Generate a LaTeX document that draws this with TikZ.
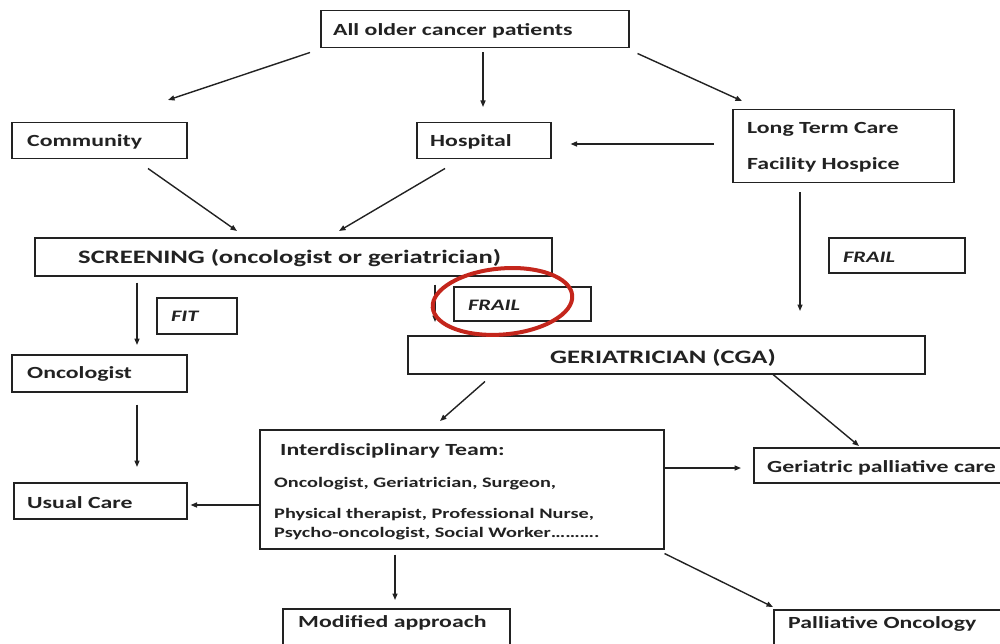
\documentclass[tikz,border=0pt]{standalone}
\usepackage{fontspec}
\setmainfont{Carlito}[FakeStretch=1.4]
\usetikzlibrary{arrows.meta}
\definecolor{ink}{RGB}{34,34,34}
\definecolor{ringred}{RGB}{196,38,28}
\begin{document}
\begin{tikzpicture}[x=1pt,y=-1pt,
  box/.style={draw=ink,line width=1.5pt,inner sep=0pt,fill=white},
  txt/.style={anchor=base west,inner sep=0pt,text=ink,font=\bfseries\fontsize{17}{20}\selectfont},
  big/.style={txt,font=\bfseries\fontsize{19}{22}\selectfont},
  small/.style={txt,font=\bfseries\fontsize{14.5}{17}\selectfont},
  tag/.style={txt,font=\bfseries\itshape\fontsize{16}{19}\selectfont},
  arr/.style={draw=ink,line width=1.4pt,-{Triangle[length=6.5pt,width=5pt]}},
  ring/.style={draw=ringred,line width=4pt}]
\useasboundingbox (0,0) rectangle (1000,644);
\clip (0,0) rectangle (1000,644);
% box #1: corner (x1,y1) to (x2,y2)
\newcommand\mybox[5]{\node[box,anchor=north west,minimum width={#4-#2},minimum height={#5-#3}] (#1) at (#2,#3) {};}
\mybox{all}{320}{10}{628}{47}
\mybox{comm}{11}{122}{186}{158}
\mybox{hosp}{416}{122}{550}{158}
\mybox{ltc}{732}{109}{953}{182}
\mybox{scr}{34}{237}{551}{275}
\mybox{fit}{156}{297}{236}{333}
\mybox{frailA}{453}{286}{590}{320}
\mybox{frailB}{828}{237}{964}{272}
\mybox{onc}{11}{354}{186}{391}
\mybox{ger}{407}{335}{924}{373}
\mybox{team}{259}{429}{663}{548}
\mybox{usual}{13}{482}{186}{518}
\mybox{gpc}{753}{447}{1010}{482}
\mybox{mod}{282}{608}{509}{670}
\mybox{pal}{773}{609}{1010}{670}
% labels
\node[txt] (allT) at (333,36) {All older cancer patients};
\node[txt] (commT) at (27,147) {Community};
\node[txt] (hospT) at (430,147) {Hospital};
\node[txt] (ltcT1) at (747,134) {Long Term Care};
\node[txt] (ltcT2) at (747,170) {Facility Hospice};
\node[big] (scrT) at (78,263) {SCREENING (oncologist or geriatrician)};
\node[tag] (fitT) at (171,321) {FIT};
\node[tag] (frailAT) at (468,310) {FRAIL};
\node[tag] (frailBT) at (843,262) {FRAIL};
\node[txt] (oncT) at (27,378) {Oncologist};
\node[big] (gerT) at (550,363) {GERIATRICIAN (CGA)};
\node[txt] (teamT) at (280,455) {Interdisciplinary Team:};
\node[small] (teamL1) at (274,487) {Oncologist, Geriatrician, Surgeon,};
\node[small] (teamL2) at (274,518) {Physical therapist, Professional Nurse,};
\node[small] (teamL3) at (274,537) {Psycho-oncologist, Social Worker……….};
\node[txt] (usualT) at (27,508) {Usual Care};
\node[txt] (gpcT) at (767,472) {Geriatric palliative care};
\node[txt] (modT) at (298,627) {Modified approach};
\node[txt] (palT) at (788,628) {Palliative Oncology};
% connectors
\draw[arr] ([shift={(-10,4)}]all.south west) -- ([shift={(157,-22)}]comm.north west);
\draw[arr] ([shift={(163,4)}]all.south west) -- ([shift={(67,-15)}]hosp.north west);
\draw[arr] ([shift={(8,5)}]all.south east) -- ([shift={(10,-8)}]ltc.north west);
\draw[arr] ([shift={(-18,35)}]ltc.north west) -- ([shift={(19,22)}]hosp.north east);
\draw[arr] ([shift={(137,9)}]comm.south west) -- ([shift={(203,-6)}]scr.north west);
\draw[arr] ([shift={(29,9)}]hosp.south west) -- ([shift={(305,-6)}]scr.north west);
\draw[arr] ([shift={(68,9)}]ltc.south west) -- ([shift={(393,-24)}]ger.north west);
\draw[arr] ([shift={(103,6)}]scr.south west) -- ([shift={(126,-9)}]onc.north west);
\draw[arr] ([shift={(401,8)}]scr.south west) -- ([shift={(28,-13)}]ger.north west);
\draw[arr] ([shift={(126,12)}]onc.south west) -- ([shift={(124,-15)}]usual.north west);
\draw[arr] ([shift={(78,7)}]ger.south west) -- ([shift={(181,-8)}]team.north west);
\draw[arr] ([shift={(366,0)}]ger.south west) -- ([shift={(106,-1)}]gpc.north west);
\draw[arr] ([shift={(0,76)}]team.north west) -- ([shift={(3,23)}]usual.north east);
\draw[arr] ([shift={(0,39)}]team.north east) -- ([shift={(-12,21)}]gpc.north west);
\draw[arr] ([shift={(136,5)}]team.south west) -- ([shift={(113,-8)}]mod.north west);
\draw[arr] ([shift={(0,4)}]team.south east) -- ([shift={(0,-2)}]pal.north west);
% highlight ring round the left FRAIL tag
\draw[ring,rotate around={5:(frailA.center)}] ([shift={(-19.5,-4)}]frailA.center) ellipse [x radius=70,y radius=33];
\end{tikzpicture}
\end{document}
